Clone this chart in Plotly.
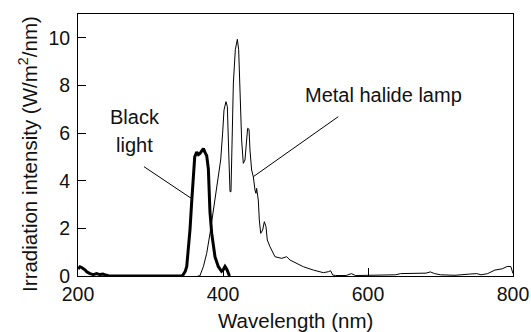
import plotly.graph_objects as go

# Metal halide lamp spectrum (nm, W/m^2/nm)
lamp_wl = [365, 368, 372.9, 377.5, 382.1, 389, 393.6, 396.8, 399.5, 401.4, 404.1, 406, 407.8,
           409.7, 411, 412.4, 414.3, 417, 419.8, 421.6, 423.4, 425.7, 428, 430.3, 432.6, 434,
           435.9, 437.2, 439.5, 441.8, 444.1, 445.5, 446.4, 448.7, 450.1, 452, 454.7, 457,
           459.3, 461.1, 464.8, 471.7, 480.9, 487.8, 492.4, 501.6, 510.8, 524.6, 538.4, 545.3,
           548.5, 551.3, 555, 570, 577, 583, 600, 620, 638, 645, 660, 680, 686, 692, 700, 720,
           740, 750, 756, 765, 775, 785, 792, 797, 800]
lamp_val = [0, 0, 0.39, 0.95, 1.79, 3.19, 4.03, 4.87, 6.0, 6.97, 7.32, 7.11, 5.29,
            3.54, 3.54, 5.29, 8.1, 9.5, 9.94, 9.5, 7.39, 5.71, 4.73, 4.87, 5.71, 6.2,
            6.16, 5.29, 4.45, 4.17, 3.61, 3.47, 3.68, 3.19, 2.35, 1.79, 1.93, 2.28,
            2.07, 1.51, 1.23, 0.81, 0.74, 0.81, 0.67, 0.53, 0.39, 0.25, 0.14, 0.18,
            0.22, 0.04, 0.02, 0.02, 0.1, 0.02, 0.02, 0.02, 0.05, 0.1, 0.1, 0.12, 0.17, 0.1, 0.05, 0.03,
            0.08, 0.1, 0.05, 0.1, 0.25, 0.3, 0.4, 0.4, 0.1]

# Black light spectrum
bl_wl = [200, 202.8, 205, 207.4, 210, 212, 216.6, 221, 225.7, 230, 234.6, 237.9, 242, 250, 300,
         343, 345, 348, 350, 352, 354.5, 356.8, 359, 361, 363.7, 366, 368.3, 371, 373, 375,
         377.5, 379.8, 381, 382, 384.4, 386.7, 389, 393.6, 398, 400.5, 402.8, 405, 407.4, 409]
bl_val = [0.3, 0.39, 0.36, 0.32, 0.25, 0.18, 0.1, 0.06, 0.1, 0.06, 0.08, 0.04, 0.01, 0, 0,
          0, 0.05, 0.2, 0.4, 1.0, 1.96, 3.1, 4.3, 5.0, 5.2, 5.1, 5.15, 5.3, 5.35, 5.2,
          5.05, 4.5, 3.5, 2.7, 1.8, 1.2, 0.8, 0.39, 0.2, 0.27, 0.4, 0.3, 0.15, 0]

x_ticks = [200, 400, 600, 800]
y_ticks = [0, 2, 4, 6, 8, 10]

x_title = "Wavelength (nm)"
y_title = "Irradiation intensity (W/m<sup>2</sup>/nm)"

FONT = "Liberation Sans, Arial, sans-serif"
TXT = "#111"

fig = go.Figure()
fig.add_trace(go.Scatter(x=lamp_wl, y=lamp_val, mode="lines",
                         line=dict(color="black", width=1), showlegend=False))
fig.add_trace(go.Scatter(x=bl_wl, y=bl_val, mode="lines",
                         line=dict(color="black", width=3), showlegend=False))

# labels and pointer lines (data coordinates)
labels = [
    dict(text="Black", x=278, y=6.68),
    dict(text="light", x=278, y=5.5),
    dict(text="Metal halide lamp", x=622, y=7.6),
]
pointers = [
    dict(x0=291, y0=4.59, x1=358.2, y1=3.22),
    dict(x0=559, y0=6.69, x1=441.8, y1=4.17),
]
for lb in labels:
    fig.add_annotation(text=lb["text"], x=lb["x"], y=lb["y"], xref="x", yref="y",
                       showarrow=False, font=dict(size=20, color=TXT, family=FONT))
for p in pointers:
    fig.add_shape(type="line", xref="x", yref="y", x0=p["x0"], y0=p["y0"],
                  x1=p["x1"], y1=p["y1"], line=dict(color="black", width=1))

# axis titles
fig.add_annotation(text=x_title, xref="paper", yref="paper", x=0.5, y=-0.168,
                   xanchor="center", yanchor="middle", showarrow=False,
                   font=dict(size=20.5, color=TXT, family=FONT))
fig.add_annotation(text=y_title, xref="paper", yref="paper", x=-0.115, y=0.466,
                   xanchor="center", yanchor="middle", textangle=-90, showarrow=False,
                   font=dict(size=20.5, color=TXT, family=FONT))

fig.update_layout(
    width=531, height=332,
    margin=dict(l=78, r=18, t=14, b=56),
    paper_bgcolor="white", plot_bgcolor="white",
    font=dict(family=FONT, size=19.5, color=TXT),
)
fig.update_xaxes(range=[200, 800], tickvals=x_ticks, ticks="inside", ticklen=8,
                 tickcolor="black", showline=True, linecolor="black", linewidth=1,
                 mirror=True, showgrid=False, zeroline=False, automargin=False,
                 ticklabelstandoff=1)
fig.update_yaxes(range=[0, 11], tickvals=y_ticks, ticks="inside", ticklen=8,
                 tickcolor="black", showline=True, linecolor="black", linewidth=1,
                 mirror=True, showgrid=False, zeroline=False, automargin=False,
                 ticklabelstandoff=3)

fig.write_html("out.html")
